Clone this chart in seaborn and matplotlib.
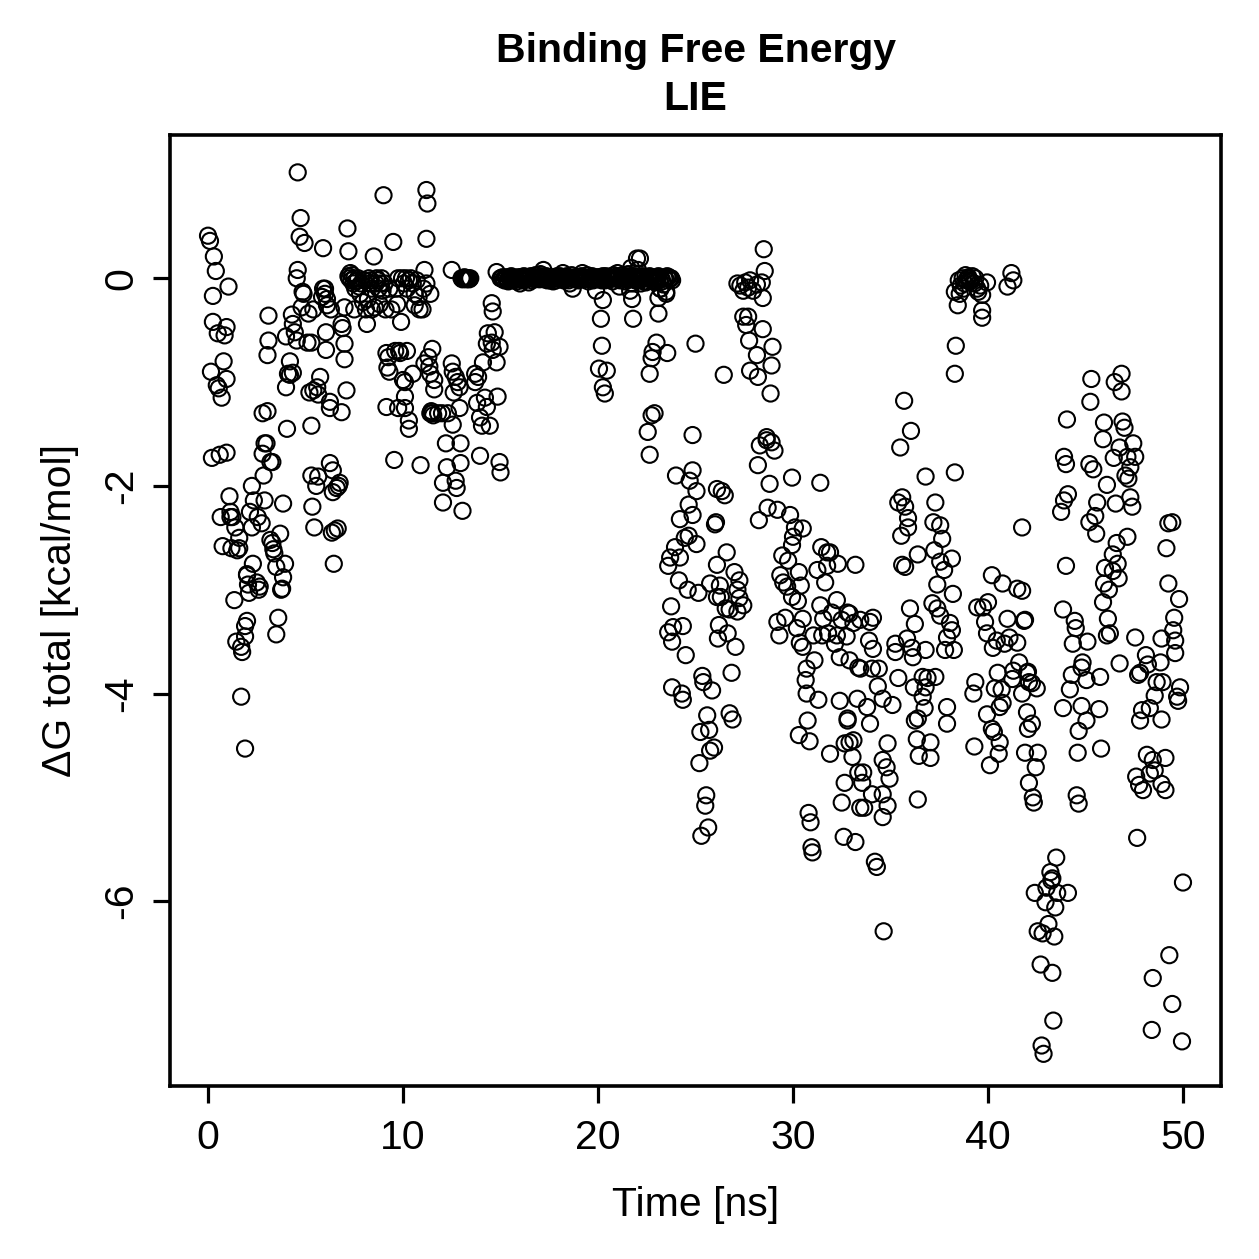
import numpy as np
import pandas as pd
import matplotlib
matplotlib.use("Agg")
import matplotlib.pyplot as plt
import seaborn as sns

# ---------------- data (time in ns, dG in kcal/mol) ----------------
t_00_05 = [0.0,0.1,0.2,0.15,0.25,0.25,0.3,0.4,0.45,0.5,0.55,0.6,0.65,0.7,0.75,0.8,0.85,0.95,0.95,0.95,
           1.05,1.1,1.15,1.25,1.2,1.35,1.4,1.45,1.5,1.6,1.6,1.7,1.7,1.75,1.9,1.9,1.9,2.0,2.0,1.15,
           2.05,2.1,2.15,2.25,2.3,2.35,2.0,2.5,2.55,2.65,2.6,2.75,2.8,2.8,2.25,2.85,2.9,2.9,3.05,3.3,
           3.05,3.1,3.1,3.0,3.2,3.35,3.4,3.5,3.6,3.5,3.7,3.85,3.95,3.85,3.8,3.75,4.05,4.0,3.2,3.3,
           4.1,4.0,4.2,4.3,4.35,4.35,4.45,4.55,4.55,4.6,4.6,4.7,4.75,4.8,4.85,4.95,5.1,5.15,4.9,4.2]
g_00_05 = [0.41,0.36,-1.73,-0.9,-0.17,-0.42,0.21,0.07,-1.03,-0.53,-1.06,-1.7,-2.3,-1.15,-2.58,-0.8,-0.55,-1.68,-0.47,-0.97,
           -0.08,-2.1,-2.25,-2.3,-2.6,-3.1,-2.4,-3.5,-2.62,-2.6,-2.5,-3.55,-4.03,-3.6,-4.53,-3.35,-3.45,-3.3,-2.85,-2.3,
           -2.95,-3.03,-2.25,-2.0,-2.75,-2.14,-2.86,-2.93,-2.3,-2.97,-3.0,-2.36,-1.3,-1.69,-2.4,-1.9,-1.59,-2.14,-1.28,-1.77,
           -0.74,-0.6,-0.36,-1.59,-2.52,-2.61,-2.65,-2.78,-3.27,-3.43,-2.46,-2.17,-2.75,-2.88,-2.99,-3.0,-1.45,-1.05,-1.77,-2.55,
           -0.92,-0.56,-0.8,-0.35,-0.44,-0.91,-0.52,-0.6,0.0,1.02,0.08,0.4,0.58,-0.28,-0.13,0.34,-0.62,-0.34,-0.15,-0.93]

t_05_10 = [5.3,5.3,5.4,5.4,5.3,5.35,5.65,5.45,5.55,5.75,5.6,5.9,5.9,5.85,5.65,6.1,6.05,6.05,5.2,6.0,
           6.0,6.1,6.25,6.4,6.25,6.25,6.4,6.35,6.45,6.5,6.6,6.65,6.75,6.85,6.9,6.85,7.0,7.0,6.3,6.7,
           7.1,7.15,7.2,7.0,7.2,7.25,7.3,7.35,7.4,7.45,7.5,7.55,7.5,7.6,7.65,7.7,7.75,7.8,7.85,7.95,
           8.0,8.1,8.15,8.2,8.25,8.3,8.35,8.4,8.5,8.4,8.55,8.6,8.65,8.7,8.75,8.8,8.85,8.9,8.95,9.0,
           9.05,9.1,9.15,9.15,9.2,9.25,9.3,9.5,9.55,9.6,9.3,9.4,9.75,9.65,9.75,9.9,9.7,9.8,9.95,9.85]
g_05_10 = [-1.42,-1.9,-0.3,-1.08,-0.62,-2.2,-1.91,-2.4,-2.0,-0.95,-1.05,0.29,-0.1,-0.18,-1.12,-0.26,-0.52,-0.69,-1.1,-0.15,
           -0.1,-0.2,-1.25,-1.85,-1.78,-1.19,-2.06,-2.45,-2.75,-2.43,-2.02,-2.41,-1.97,-0.44,-0.48,-1.29,-0.63,-0.78,-0.3,-2.0,
           -1.08,0.48,0.26,-0.28,0.02,0.0,0.05,-0.02,0.03,-0.05,0.0,-0.1,-0.3,-0.03,-0.02,0.0,-0.08,-0.15,-0.05,-0.23,
           -0.02,-0.3,-0.44,-0.2,0.0,-0.05,-0.02,-0.1,0.21,-0.3,-0.28,-0.05,0.0,-0.02,-0.1,-0.25,-0.05,0.0,-0.12,0.8,
           -0.05,-0.3,-1.24,-0.72,-0.86,-0.76,-0.1,0.35,-1.75,-0.7,-0.9,-0.3,0.0,-0.1,-1.25,-0.42,-0.25,-0.7,0.0,-0.72]

t_10_15 = [10.0,10.1,10.1,10.05,10.15,10.2,10.1,10.3,10.3,10.2,10.3,10.4,10.5,10.5,10.6,10.6,10.7,10.8,10.9,10.85,
           11.1,11.2,11.25,11.2,11.1,11.0,11.05,11.3,11.35,11.4,11.5,11.55,11.5,11.2,11.4,11.6,11.6,11.4,11.8,11.45,
           12.0,12.05,12.05,12.2,12.25,12.5,12.3,12.5,12.55,12.55,12.7,12.7,12.75,12.9,12.9,12.95,12.95,13.05,12.8,12.6,
           13.0,13.05,13.1,13.15,13.2,13.25,13.3,13.35,13.4,13.45,13.7,13.7,13.8,13.95,13.95,13.85,
           14.05,14.2,14.3,14.45,14.85,14.95,15.0,14.1,14.3,14.35,14.55,14.6,14.6,14.7,14.8,14.8,14.95,14.55]
g_10_15 = [-0.98,-1.14,-1.25,-0.05,0.0,-0.1,-1.0,-1.37,-1.45,-0.7,-0.02,0.0,-0.05,-0.92,-0.15,-0.26,-0.02,-0.18,-1.8,-0.3,
           -0.82,0.85,0.72,0.38,0.08,-0.3,-0.1,-0.76,-0.85,-1.3,-1.3,-1.32,-0.68,-0.05,-0.15,-0.98,-1.07,-0.92,-1.3,-1.28,
           -1.3,-1.97,-2.16,-1.59,-1.82,0.08,-1.3,-0.82,-0.9,-1.41,-0.95,-1.95,-2.02,-1.25,-1.05,-1.59,-1.78,-2.24,-1.0,-1.1,
           0.0,-0.01,0.0,0.01,0.0,-0.01,0.0,0.0,-0.01,0.0,-0.92,-1.0,-1.2,-1.71,-1.34,-0.95,
           -1.42,-1.15,-1.24,-1.42,-1.14,-1.77,-1.87,-0.81,-0.63,-0.53,-0.24,-0.32,-0.69,-0.52,-0.81,0.06,-0.66,-0.62]

# plateau near zero (15.0 - 23.8 ns), two interleaved sampling grids
t_plateau = np.round(np.arange(15.0, 23.85, 0.1), 2)
g_plateau = [0.0,0.01,-0.02,0.0,-0.03,0.01,0.0,-0.02,0.0,0.01,
             -0.05,0.0,0.02,-0.01,0.0,0.01,-0.02,0.0,0.03,0.0,
             -0.01,0.02,0.08,0.0,-0.02,0.01,0.0,-0.03,0.0,0.02,
             0.0,-0.01,0.05,0.0,0.02,-0.02,0.0,-0.1,0.01,0.0,
             -0.02,0.0,0.05,0.01,0.0,-0.03,0.0,0.02,-0.01,-0.12,
             0.0,0.01,-0.02,0.0,0.02,0.0,-0.01,0.0,0.03,0.0,
             0.05,-0.08,0.0,0.01,-0.03,0.0,0.02,0.1,0.0,-0.02,
             0.19,0.0,-0.05,0.02,0.0,-0.03,0.0,0.01,-0.02,0.0,
             0.0,0.02,-0.1,-0.03,0.0,-0.15,0.01,0.0,-0.02]
t_plateau_b = np.round(np.arange(15.05, 23.8, 0.1), 2)
g_plateau_b = [0.0,-0.01,0.01,-0.02,0.0,0.02,-0.01,0.0,-0.03,0.0,
               0.01,-0.02,0.0,0.0,-0.04,0.02,0.0,-0.01,0.0,0.01,
               0.04,0.0,-0.01,0.02,0.0,-0.02,0.0,0.01,-0.02,0.0,
               0.02,0.0,-0.02,0.01,0.0,-0.05,0.03,0.0,-0.01,0.0,
               0.0,0.02,-0.01,0.0,0.03,-0.01,0.0,-0.02,0.0,0.01,
               -0.01,0.0,0.02,-0.02,0.0,0.01,0.0,-0.03,0.0,0.02,
               0.0,-0.02,0.03,0.0,-0.01,0.04,0.0,-0.05,0.02,0.0,
               0.08,-0.02,0.0,0.01,-0.04,0.0,0.02,0.0,-0.03,0.0,
               0.01,-0.02,0.0,-0.06,0.0,0.02,-0.01,0.0]
t_dips = [20.05,20.15,20.2,20.25,20.25,20.35,20.45,21.65,21.75,21.8,22.15,22.55,22.65,22.65,22.75,22.75,22.8,22.9,23.0,23.1,23.1,23.2,23.55,23.5]
g_dips = [-0.87,-0.39,-0.65,-0.21,-1.05,-1.11,-0.89,-0.12,-0.2,-0.39,0.19,-1.48,-1.7,-0.92,-0.77,-1.32,-0.71,-1.3,-0.62,-0.34,-0.19,-0.1,-0.72,-0.13]

t_24_30 = [24.0,24.2,24.85,24.7,25.05,24.65,24.85,24.65,24.45,25.05,23.95,23.7,24.2,23.6,24.15,24.6,23.75,23.6,23.85,24.35,23.8,24.5,23.8,24.3,24.35,24.85,25.0,
           25.15,25.75,25.35,25.4,25.85,25.6,25.25,25.7,25.95,25.75,25.2,25.55,25.5,25.65,25.3,26.0,26.1,26.5,
           26.1,26.25,26.1,26.3,26.55,26.75,26.2,26.15,26.65,26.85,26.75,26.9,26.6,26.45,26.35,26.05,
           27.0,27.25,27.15,27.25,27.45,27.15,27.05,27.15,27.3,27.45,27.55,27.7,27.8,27.95,28.15,27.45,27.7,27.6,27.75,27.8,28.15,28.2,
           28.4,28.5,28.55,28.45,28.45,28.95,28.9,28.85,28.65,28.3,28.2,29.05,28.9,28.65,28.8,28.7,28.25,29.2,
           29.85,30.1,29.95,29.45,29.75,29.35,29.5,29.7,29.95,29.2,29.3,29.6,30.0,29.95]
g_24_30 = [-1.9,-2.32,-1.85,-1.95,-2.05,-2.18,-2.28,-2.48,-2.5,-2.56,-2.59,-2.69,-2.69,-2.77,-2.91,-3.0,-3.16,-3.41,-3.36,-3.35,-3.5,-3.63,-3.94,-4.0,-4.06,-1.51,-0.63,
           -3.03,-2.94,-3.83,-3.89,-3.97,-4.21,-4.37,-4.35,-4.52,-4.55,-4.67,-4.98,-5.08,-5.29,-5.37,-2.37,-2.03,-2.09,
           -2.76,-2.96,-3.07,-3.07,-3.18,-3.19,-3.34,-3.47,-3.42,-3.8,-4.19,-4.25,-2.64,-0.93,-2.05,-2.35,
           -2.83,-2.91,-3.0,-3.08,-3.15,-3.21,-3.55,-0.05,-0.07,-0.12,-0.04,-0.09,-0.02,-0.12,-0.06,-0.37,-0.37,-0.45,-0.6,-0.89,-0.74,-0.95,
           -0.04,0.28,0.07,-0.19,-0.49,-0.66,-0.84,-1.11,-1.56,-1.61,-1.8,-1.66,-1.58,-1.53,-1.98,-2.21,-2.33,-2.23,
           -2.28,-2.4,-1.92,-2.67,-2.72,-2.86,-2.93,-2.97,-3.07,-3.31,-3.44,-3.27,-2.49,-2.57]

t_30_40 = [30.5,30.3,30.4,30.25,30.2,30.5,30.35,30.5,30.7,30.65,30.7,30.75,30.3,30.85,30.8,30.9,30.95,31.0,31.1,31.4,
           31.3,31.45,31.75,31.9,31.75,31.25,31.65,31.4,31.55,31.05,31.5,31.8,31.9,32.0,
           32.3,32.25,32.25,32.15,32.4,32.9,32.5,32.8,32.75,32.4,32.8,32.65,32.65,32.5,32.6,32.9,32.8,
           33.1,33.35,33.3,33.1,33.05,33.35,33.45,33.2,33.2,33.55,33.6,33.65,33.8,33.95,33.45,33.95,33.9,32.9,33.45,
           34.05,34.3,34.2,34.35,34.6,34.6,34.6,34.6,34.65,34.8,34.85,34.85,34.95,35.1,34.1,34.1,34.4,34.05,
           35.4,35.25,35.25,35.85,35.5,35.7,35.6,35.4,35.75,35.9,35.9,35.55,35.6,35.75,36.0,
           36.05,36.8,36.4,36.25,36.1,36.15,36.8,36.9,36.65,36.8,36.2,36.65,36.75,36.4,36.25,36.35,36.45,36.4,
           37.3,37.2,37.55,37.65,37.25,38.15,37.55,37.75,37.4,37.15,37.4,37.55,37.9,37.8,37.3,37.05,37.05,37.9,37.9,
           38.05,38.15,38.25,38.2,38.3,38.3,38.35,38.45,38.3,38.5,38.6,38.7,38.8,38.85,38.9,38.95,38.55,38.75,
           39.05,39.2,39.3,39.35,39.45,39.5,39.6,39.7,39.95,39.7,39.7,39.45,39.75,39.35,39.25,39.3,39.85,39.95,40.0,39.95,40.2,39.0,39.1]
g_30_40 = [-2.41,-2.83,-2.96,-3.11,-3.37,-3.28,-3.51,-3.55,-3.76,-3.87,-4.0,-4.26,-4.4,-4.46,-5.15,-5.24,-5.48,-5.53,-3.68,-1.97,
           -4.06,-2.59,-2.64,-2.64,-2.77,-2.81,-2.93,-3.15,-3.28,-3.44,-3.44,-3.42,-4.58,-3.22,
           -2.75,-3.1,-3.44,-3.52,-3.65,-3.68,-3.29,-3.22,-3.45,-4.07,-4.26,-4.48,-4.86,-5.05,-5.38,-4.47,-4.24,
           -3.32,-3.75,-4.05,-4.45,-4.61,-4.76,-5.1,-5.43,-2.76,-4.86,-4.76,-5.1,-4.13,-4.29,-3.29,-3.31,-3.49,-3.23,-3.76,
           -4.97,-5.67,-5.62,-3.93,-4.05,-5.19,-4.64,-4.97,-6.29,-4.71,-4.48,-5.08,-4.82,-4.11,-3.27,-3.57,-3.76,-3.76,
           -3.85,-3.52,-3.6,-3.47,-1.63,-1.18,-2.11,-2.16,-2.2,-2.31,-2.4,-2.48,-2.76,-2.78,-3.18,
           -1.47,-1.91,-2.66,-3.33,-3.56,-3.65,-3.58,-3.85,-3.84,-3.94,-3.94,-4.03,-4.14,-4.24,-4.26,-4.44,-4.6,-5.02,
           -2.16,-2.35,-2.38,-2.51,-2.62,-2.7,-2.73,-2.81,-2.95,-3.13,-3.18,-3.25,-3.46,-3.58,-3.84,-4.47,-4.62,-4.13,-4.29,
           -3.32,-3.39,-3.58,-3.04,-1.87,-0.92,-0.65,-0.26,-0.13,-0.02,-0.07,0.0,-0.05,0.03,-0.02,0.0,-0.15,-0.1,
           -0.02,0.02,-0.05,0.0,-0.1,-0.13,-0.07,-0.16,-0.04,-0.31,-0.38,-3.17,-3.17,-3.89,-4.0,-4.51,-3.31,-3.42,-3.12,-4.2,-2.86,0.01,-0.03]

t_40_50 = [40.2,40.3,40.1,40.25,40.45,40.5,40.35,40.7,40.75,40.6,40.6,40.55,40.75,40.85,41.0,41.1,41.0,41.2,41.3,
           41.5,41.75,41.5,41.85,41.6,41.3,41.25,41.75,41.75,42.0,41.9,41.9,42.0,
           42.05,42.1,42.25,42.5,42.25,42.05,42.55,42.45,42.1,42.3,42.35,42.4,42.55,42.8,42.7,42.75,42.85,42.95,43.0,
           43.1,43.2,43.3,43.35,43.4,43.45,43.5,43.55,43.3,43.85,43.85,43.9,44.0,43.75,43.9,44.05,44.0,44.1,44.1,43.25,
           44.2,44.3,44.35,44.45,44.5,44.55,44.65,44.6,44.65,44.8,44.8,44.85,45.05,45.05,45.1,45.2,45.2,45.25,45.3,
           45.4,45.5,45.55,45.6,45.7,45.75,45.8,45.9,45.9,45.95,45.95,46.0,46.1,46.1,46.15,
           46.2,46.25,46.4,46.4,46.45,46.5,46.55,46.6,46.65,46.7,46.75,46.75,46.85,46.85,46.9,47.0,
           47.05,47.15,47.15,47.2,47.3,47.3,47.4,47.45,47.55,47.55,47.6,47.65,47.75,47.8,47.9,47.95,47.7,47.8,
           48.1,48.15,48.2,48.3,48.3,48.4,48.45,48.45,48.55,48.55,48.65,48.85,48.9,48.9,48.9,48.95,
           49.1,49.1,49.15,49.25,49.25,49.3,49.45,49.45,49.5,49.55,49.6,49.6,49.7,49.75,49.8,49.85,49.95,50.0]
g_40_50 = [-4.34,-4.37,-4.69,-3.56,-3.49,-3.8,-3.95,-3.96,-4.09,-4.13,-4.47,-4.58,-2.94,-3.52,-3.28,-3.46,-0.08,0.05,-0.02,
           -2.99,-3.01,-3.51,-3.3,-3.7,-3.78,-3.86,-4.0,-2.4,-4.18,-4.57,-3.29,-3.8,
           -3.79,-3.89,-3.9,-3.95,-4.29,-4.34,-4.57,-4.71,-4.86,-5.0,-5.05,-5.92,-6.29,-6.31,-6.61,-7.39,-7.47,-6.01,-5.87,
           -6.22,-5.72,-6.69,-7.15,-6.34,-6.06,-5.58,-5.92,-5.78,-3.19,-4.14,-1.72,-1.79,-2.25,-2.14,-1.36,-2.77,-2.08,-5.92,-5.8,
           -3.96,-3.82,-3.52,-3.3,-3.37,-4.98,-5.06,-4.57,-4.36,-4.12,-3.75,-3.7,-3.87,-4.26,-3.5,-1.79,-2.35,-1.19,-0.97,
           -1.84,-2.29,-2.46,-2.16,-4.15,-3.84,-4.53,-1.55,-3.12,-1.39,-2.94,-2.79,-1.99,-3.44,-3.28,
           -3.0,-3.42,-2.66,-2.82,-1.73,-1.0,-2.17,-2.55,-2.75,-2.89,-1.63,-3.71,-0.92,-1.09,-1.38,-1.44,
           -1.9,-1.72,-2.49,-1.93,-1.82,-2.11,-2.2,-1.59,-1.72,-3.46,-4.8,-5.39,-4.88,-4.26,-4.16,-4.93,-3.82,-3.8,
           -3.63,-4.59,-3.72,-4.14,-4.77,-7.24,-4.64,-6.74,-4.02,-4.74,-3.89,-3.7,-3.47,-4.25,-4.87,-3.89,
           -4.62,-4.93,-2.6,-2.36,-2.94,-6.52,-2.35,-6.99,-3.39,-3.27,-3.61,-3.49,-4.03,-4.07,-3.09,-3.94,-7.35,-5.82]

x_ticks = [0, 10, 20, 30, 40, 50]
y_ticks = [0, -2, -4, -6]
title_text = "Binding Free Energy\nLIE"
x_label = "Time [ns]"
y_label = "\u0394G total [kcal/mol]"

# ---------------- assemble ----------------
pairs = [(t_00_05, g_00_05), (t_05_10, g_05_10), (t_10_15, g_10_15),
         (list(t_plateau), g_plateau), (list(t_plateau_b), g_plateau_b),
         (t_dips, g_dips), (t_24_30, g_24_30), (t_30_40, g_30_40), (t_40_50, g_40_50)]
for i, (a, b) in enumerate(pairs):
    if len(a) != len(b):
        raise ValueError(f"segment {i}: {len(a)} times vs {len(b)} values")
df = pd.DataFrame({"time": np.concatenate([np.asarray(a, float) for a, _ in pairs]),
                   "dg": np.concatenate([np.asarray(b, float) for _, b in pairs])})

# ---------------- plot ----------------
sns.set_theme(style="white")
plt.rcParams['font.family'] = ['Liberation Sans', 'DejaVu Sans']
plt.rcParams['axes.unicode_minus'] = False

W = 1259
fig = plt.figure(figsize=(W / 100, W / 100), dpi=100)
ax = fig.add_axes([170 / W, 1 - 1086 / W, (1221 - 170) / W, (1086 - 135) / W])

sns.scatterplot(data=df, x="time", y="dg", ax=ax, marker="o", s=135,
                facecolor="none", edgecolor="black", linewidth=1.5, legend=False)

ax.set_xlim(-1.95, 51.95)
ax.set_ylim(-7.78, 1.38)
ax.set_xticks(x_ticks)
ax.set_yticks(y_ticks)
ax.set_xticklabels([str(v) for v in x_ticks])
ax.set_yticklabels([str(v) for v in y_ticks], rotation=90, va="center")

fs = 29.5
ax.tick_params(axis="both", direction="out", length=12.5, width=2.3, colors="black",
               labelsize=fs, bottom=True, left=True, top=False, right=False)
ax.tick_params(axis="x", pad=11)
ax.tick_params(axis="y", pad=9)
for sp in ax.spines.values():
    sp.set_visible(True)
    sp.set_color("black")
    sp.set_linewidth(2.6)

ax.set_xlabel(x_label, fontsize=fs, color="black", labelpad=21)
ax.set_ylabel(y_label, fontsize=fs, color="black", labelpad=17)
ax.set_title(title_text, fontsize=fs, fontweight="bold", color="black", pad=18, linespacing=1.32)
ax.grid(False)

fig.savefig("out.png", dpi=100, facecolor="white")
